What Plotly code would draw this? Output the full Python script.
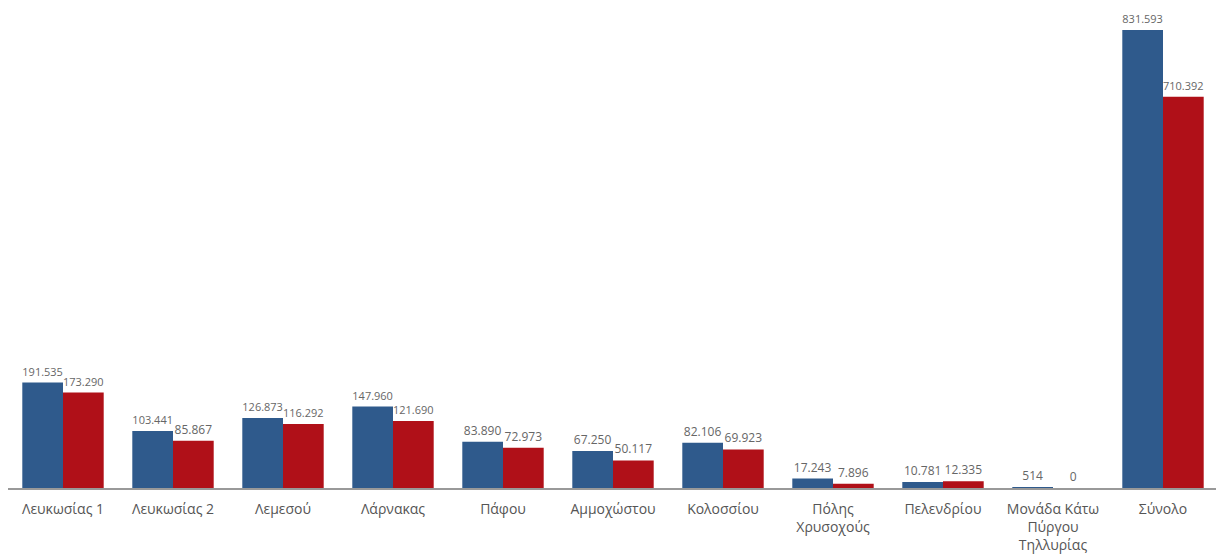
import plotly.graph_objects as go

categories = ["Λευκωσίας 1", "Λευκωσίας 2", "Λεμεσού", "Λάρνακας", "Πάφου",
              "Αμμοχώστου", "Κολοσσίου", "Πόλης<br>Χρυσοχούς", "Πελενδρίου",
              "Μονάδα Κάτω<br>Πύργου<br>Τηλλυρίας", "Σύνολο"]
series_a = [191535, 103441, 126873, 147960, 83890, 67250, 82106, 17243, 10781, 514, 831593]
series_b = [173290, 85867, 116292, 121690, 72973, 50117, 69923, 7896, 12335, 0, 710392]

blue = "#2f5a8c"
red = "#b01018"

fig = go.Figure()
for vals, col in [(series_a, blue), (series_b, red)]:
    fig.add_trace(go.Bar(
        x=categories, y=vals, marker_color=col, marker_line_width=0,
        texttemplate="%{y:,}", textposition="outside", cliponaxis=False,
        textfont=dict(size=12, color="#666666", family="Open Sans"),
        showlegend=False,
    ))

fig.update_layout(
    width=1216, height=549,
    margin=dict(l=0, r=6, t=2, b=69, autoexpand=False),
    plot_bgcolor="white", paper_bgcolor="white",
    barmode="group", bargap=0.26, bargroupgap=0,
    separators=",.",
    font=dict(family="Open Sans", color="#555555", size=14),
    xaxis=dict(showline=True, linecolor="#999999", linewidth=2,
               ticks="outside", ticklen=7, tickcolor="rgba(0,0,0,0)",
               automargin=False,
               tickfont=dict(size=14, color="#555555"), showgrid=False),
    yaxis=dict(visible=False, range=[0, 867907], showgrid=False),
)
fig.write_html("out.html")
